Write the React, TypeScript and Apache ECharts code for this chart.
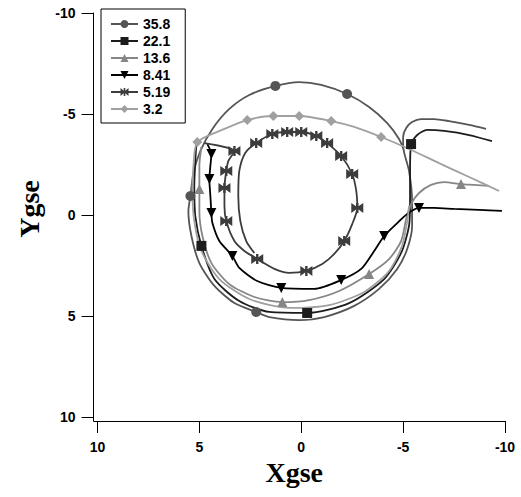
import React, { useEffect, useRef } from "react";
import * as echarts from "echarts";

// Series names (legend)
const seriesNames = ["35.8", "22.1", "13.6", "8.41", "5.19", "3.2"];
const seriesColors = ["#555555", "#1c1c1c", "#868686", "#000000", "#3c3c3c", "#a0a0a0"];
const xTickValues = [10, 5, 0, -5, -10];
const yTickValues = [-10, -5, 0, 5, 10];

// Each point: [Xgse, Ygse, marker(1) or not(0)]
const track358: number[][] = [
  [-9.07, -4.26, 0], [-8.24, -4.46, 0], [-7.25, -4.65, 0], [-6.52, -4.75, 0], [-5.88, -4.75, 0],
  [-5.44, -4.6, 0], [-5.15, -4.31, 0], [-5.0, -3.86, 0], [-5.0, -3.42, 0], [-5.29, -2.18, 0],
  [-5.44, -0.69, 0], [-5.44, 0.54, 0], [-5.2, 1.68, 0], [-4.71, 2.67, 0], [-3.82, 3.66, 0],
  [-2.6, 4.5, 0], [-1.13, 5.05, 0], [0.1, 5.2, 0], [1.57, 5.05, 0], [2.21, 4.8, 1],
  [3.28, 4.36, 0], [4.26, 3.51, 0], [5.0, 2.38, 0], [5.39, 1.04, 0], [5.54, -0.2, 0],
  [5.44, -0.94, 1], [5.29, -2.08, 0], [4.95, -3.17, 0], [4.36, -4.26, 0], [3.53, -5.25, 0],
  [2.55, -5.94, 0], [1.27, -6.39, 1], [0.1, -6.58, 0], [-0.98, -6.44, 0], [-2.25, -5.99, 1],
  [-3.33, -5.35, 0], [-4.22, -4.55, 0], [-4.8, -3.76, 0], [-5.05, -3.17, 0],
];

const track221: number[][] = [
  [-9.36, -3.66, 0], [-8.24, -3.96, 0], [-7.01, -4.16, 0], [-6.18, -4.21, 0], [-5.69, -3.96, 0],
  [-5.39, -3.51, 1], [-5.34, -2.18, 0], [-5.34, -0.69, 0], [-5.29, 0.54, 0], [-4.9, 1.88, 0],
  [-4.07, 3.17, 0], [-2.35, 4.36, 0], [-0.29, 4.85, 1], [1.57, 4.8, 0], [3.04, 4.26, 0],
  [4.26, 3.17, 0], [4.9, 1.53, 1], [5.2, 0.05, 0], [5.25, -1.44, 0], [5.2, -2.67, 0],
  [5.15, -3.51, 0],
];

const track136: number[][] = [
  [-9.22, -1.44, 0], [-8.48, -1.49, 0], [-7.84, -1.53, 1], [-7.01, -1.63, 0], [-6.37, -1.49, 0],
  [-5.78, -1.09, 0], [-5.39, -0.54, 0], [-5.15, 0.2, 0], [-4.9, 1.29, 0], [-4.31, 2.18, 0],
  [-3.33, 2.92, 1], [-1.86, 3.76, 0], [-0.39, 4.21, 0], [0.93, 4.31, 1], [2.3, 4.06, 0],
  [3.53, 3.42, 0], [4.41, 2.38, 0], [4.85, 1.04, 0], [5.0, -0.2, 0], [5.0, -1.29, 1],
  [5.0, -2.43, 0], [4.9, -3.37, 0],
];

const track841: number[][] = [
  [-9.85, -0.2, 0], [-8.73, -0.25, 0], [-7.5, -0.3, 0], [-6.52, -0.35, 0], [-5.78, -0.35, 1],
  [-5.2, -0.05, 0], [-4.66, 0.45, 0], [-4.07, 1.04, 1], [-3.58, 1.78, 0], [-2.94, 2.67, 0],
  [-1.96, 3.22, 1], [-0.64, 3.66, 0], [0.98, 3.61, 1], [2.16, 3.27, 0], [3.04, 2.62, 0],
  [3.38, 2.03, 1], [4.02, 1.29, 0], [4.36, 0.4, 0], [4.41, -0.1, 1], [4.46, -0.94, 0],
  [4.51, -1.78, 1], [4.46, -2.43, 0], [4.41, -3.02, 1], [4.61, -3.51, 0],
];

const track519: number[][] = [
  [4.75, -3.56, 0], [3.28, -3.17, 1], [3.58, -2.67, 0], [3.68, -2.18, 1], [3.77, -1.34, 1],
  [3.77, -0.45, 0], [3.68, 0.3, 1], [3.28, 1.29, 0], [2.79, 1.78, 0], [2.16, 2.18, 1],
  [1.32, 2.67, 0], [0.59, 2.87, 0], [-0.25, 2.77, 1], [-1.03, 2.43, 0], [-1.62, 1.93, 0],
  [-2.11, 1.29, 1], [-2.5, 0.45, 0], [-2.75, -0.35, 1], [-2.7, -1.19, 0], [-2.5, -2.03, 1],
  [-1.96, -2.92, 1], [-1.27, -3.56, 1], [-0.74, -3.91, 1], [0.0, -4.11, 1], [0.69, -4.11, 1],
  [1.42, -4.01, 1], [2.21, -3.56, 1], [2.75, -3.07, 0], [3.04, -2.18, 0], [3.09, -0.94, 0],
  [2.99, 0.3, 0], [2.7, 1.29, 0], [2.3, 1.88, 0],
];

const track32: number[][] = [
  [-9.71, -1.19, 0], [-8.24, -1.88, 0], [-6.76, -2.57, 0], [-5.29, -3.27, 0], [-3.92, -3.86, 1],
  [-2.6, -4.36, 0], [-1.47, -4.65, 1], [0.1, -4.9, 1], [1.37, -4.9, 1], [2.65, -4.7, 1],
  [3.77, -4.26, 0], [5.1, -3.61, 1], [5.29, -2.43, 0], [5.34, -1.19, 0], [5.25, 0.3, 0],
  [4.9, 1.78, 0], [4.02, 3.17, 0], [2.55, 4.16, 0], [0.59, 4.6, 0], [-1.37, 4.46, 0],
  [-3.09, 3.81, 0], [-4.31, 2.77, 0], [-4.95, 1.53, 0], [-5.2, 0.3, 0], [-5.29, -0.45, 0],
];

const tracks = [track358, track221, track136, track841, track519, track32];

const symbols = [
  "circle",
  "rect",
  "triangle",
  "path://M0,0L10,0L5,10Z",
  "path://M0,0L8,4L8,0L12,0L12,4L20,0L20,12L12,8L12,12L8,12L8,8L0,12Z",
  "diamond",
];
const symbolSizes: (number | number[])[] = [10, 10, 10, 10, [12, 10], 10];

const SANS = "'Liberation Sans', Arial, sans-serif";
const SERIF = "'Liberation Serif', 'Times New Roman', serif";

export default function App() {
  const ref = useRef<HTMLDivElement>(null);

  useEffect(() => {
    if (!ref.current) return;
    const chart = echarts.init(ref.current, undefined, { renderer: "svg" });

    const series = tracks.map((pts, i) => ({
      name: seriesNames[i],
      type: "line",
      symbol: symbols[i],
      symbolSize: symbolSizes[i],
      showSymbol: true,
      showAllSymbol: true,
      smooth: 0.25,
      clip: false,
      lineStyle: { color: seriesColors[i], width: 1.8 },
      itemStyle: { color: seriesColors[i], borderWidth: 0 },
      emphasis: { disabled: true },
      data: pts.map(([x, y, m]) =>
        m ? { value: [x, y] } : { value: [x, y], symbol: "none" }
      ),
    }));

    chart.setOption({
      animation: false,
      backgroundColor: "#ffffff",
      grid: { left: 97.5, right: 16, top: 13, bottom: 80, containLabel: false },
      legend: {
        orient: "vertical",
        left: 101,
        top: 9,
        data: seriesNames,
        itemWidth: 27,
        itemHeight: 10,
        itemGap: 3,
        padding: [8, 15, 7, 9],
        borderColor: "#000",
        borderWidth: 1,
        backgroundColor: "#fff",
        textStyle: { fontFamily: SANS, fontWeight: "bold", fontSize: 14, color: "#000" },
      },
      xAxis: {
        type: "value",
        min: -10,
        max: 10,
        interval: 5,
        inverse: true,
        offset: 4,
        splitLine: { show: false },
        axisLine: { show: true, onZero: false, lineStyle: { color: "#000", width: 1 } },
        axisTick: { show: true, length: 12, lineStyle: { color: "#000", width: 1 } },
        axisLabel: {
          margin: 19,
          fontFamily: SANS,
          fontWeight: "bold",
          fontSize: 14,
          color: "#000",
        },
        name: "Xgse",
        nameLocation: "middle",
        nameGap: 30,
        nameTextStyle: {
          fontFamily: SERIF,
          fontWeight: "bold",
          fontSize: 28,
          color: "#000",
          padding: [0, 14, 0, 0],
        },
      },
      yAxis: {
        type: "value",
        min: -10,
        max: 10,
        interval: 5,
        inverse: true,
        offset: 4,
        splitLine: { show: false },
        axisLine: { show: true, onZero: false, lineStyle: { color: "#000", width: 1 } },
        axisTick: { show: true, length: 12, lineStyle: { color: "#000", width: 1 } },
        axisLabel: {
          margin: 18,
          fontFamily: SANS,
          fontWeight: "bold",
          fontSize: 14,
          color: "#000",
        },
        name: "Ygse",
        nameLocation: "middle",
        nameGap: 50,
        nameTextStyle: {
          fontFamily: SERIF,
          fontWeight: "bold",
          fontSize: 28,
          color: "#000",
          padding: [0, 0, 0, 12],
        },
      },
      graphic: [
        {
          type: "polyline",
          silent: true,
          shape: { points: [[93.5, 412], [93.5, 421.5], [102, 421.5]] },
          style: { stroke: "#000", lineWidth: 1, fill: null },
        },
      ],
      series,
    });

    return () => chart.dispose();
  }, []);

  return (
    <div
      ref={ref}
      style={{ position: "fixed", left: 0, top: 0, width: 521, height: 497, background: "#fff" }}
    />
  );
}
